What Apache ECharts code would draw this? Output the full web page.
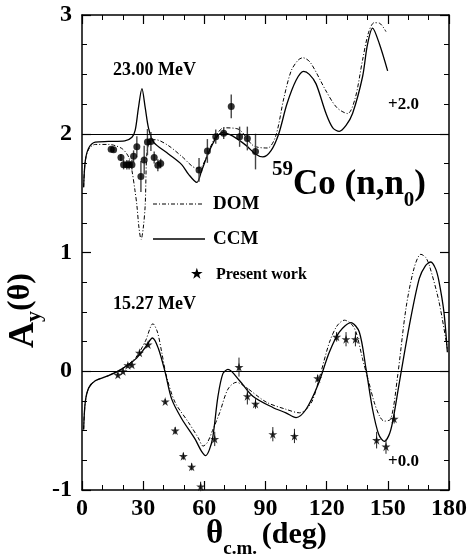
<!DOCTYPE html>
<html>
<head>
<meta charset="utf-8">
<script src="https://cdn.jsdelivr.net/npm/echarts@6/dist/echarts.min.js"></script>
<style>
html, body { margin: 0; padding: 0; background: #fff; }
#chart { width: 470px; height: 560px; }
</style>
</head>
<body>
<div id="chart"></div>
<script>
// 59Co(n,n0) analysing power, two energies; 23.00 MeV drawn shifted by +2.0
const FONT = '"Liberation Serif", "Times New Roman", serif';

// 23.00 MeV, values as plotted (+2.0)
const ccm23 = [[0.8,1.55],[1.6,1.77],[3.3,1.88],[6.5,1.93],[13,1.935],[21,1.94],[24.5,1.97],[26.1,2.03],[27.7,2.22],[29.4,2.38],[31.0,2.22],[32.6,2.05],[35.1,1.93],[42.4,1.83],[48.9,1.74],[52.2,1.66],[56.3,1.59],[58.7,1.69],[61.8,1.83],[65.9,1.97],[69.1,2.01],[74,1.98],[80.6,1.90],[85,1.83],[88.7,1.805],[92.8,1.86],[96.5,2.0],[100.5,2.25],[105,2.45],[108.7,2.525],[111.5,2.5],[114.8,2.42],[119.7,2.17],[123,2.05],[126.2,2.02],[129.5,2.07],[132.7,2.17],[137.6,2.48],[140,2.75],[142.5,2.89],[145.8,2.76],[149.9,2.53]];
const dom23 = [[0.8,1.55],[1.6,1.77],[3.3,1.87],[6.5,1.91],[13,1.91],[16.3,1.90],[20,1.87],[23,1.80],[24.5,1.69],[26,1.52],[26.9,1.40],[28,1.20],[29,1.11],[30,1.20],[31,1.40],[31.8,1.83],[33.3,1.94],[36,1.95],[42.4,1.90],[48.9,1.81],[56.3,1.71],[59,1.73],[62,1.85],[66,1.99],[69.5,2.05],[76.5,2.04],[84,1.90],[91,1.88],[95,1.98],[99,2.3],[102.6,2.53],[106,2.62],[108.3,2.64],[112,2.6],[119.7,2.36],[125,2.22],[130.3,2.17],[134,2.3],[137.6,2.62],[140.5,2.85],[143.3,2.935],[146,2.93],[149.1,2.86]];
// [angle, value, error]
const data23 = [[14.3,1.87,0.02],[15.5,1.865,0.02],[19.1,1.80,0.03],[20.4,1.74,0.04],[22.0,1.74,0.04],[23.1,1.74,0.04],[24.5,1.74,0.04],[25.3,1.81,0.05],[26.9,1.89,0.09],[28.9,1.64,0.13],[30.5,1.78,0.12],[32.1,1.93,0.11],[33.8,1.935,0.08],[35.4,1.80,0.05],[37.2,1.735,0.05],[38.6,1.75,0.04],[57.4,1.695,0.1],[61.5,1.855,0.1],[65.6,1.975,0.06],[69.5,2.005,0.05],[73.2,2.23,0.1],[77.3,1.975,0.085],[81.1,1.96,0.1],[85.1,1.85,0.15]];

// 15.27 MeV (+0.0)
const ccm15 = [[0.8,-0.49],[1.6,-0.26],[3.3,-0.14],[6.5,-0.08],[13,-0.037],[19.6,0.02],[26.1,0.10],[31,0.20],[34.6,0.28],[37.5,0.19],[40.8,-0.01],[44,-0.235],[48.9,-0.40],[55.4,-0.57],[58.5,-0.67],[60.6,-0.71],[62.5,-0.66],[64.2,-0.55],[66.7,-0.21],[69.1,-0.02],[71.6,0.015],[77.3,-0.08],[83.8,-0.21],[93.6,-0.305],[100,-0.35],[105,-0.39],[109.9,-0.32],[115.6,-0.12],[121.3,0.16],[126.2,0.33],[131.9,0.41],[136,0.33],[139.3,0.02],[142.5,-0.32],[145.5,-0.53],[148.2,-0.59],[150.5,-0.54],[152.3,-0.43],[155.6,-0.10],[160.5,0.38],[165.4,0.78],[168.5,0.89],[171.1,0.92],[173.5,0.86],[175.1,0.755],[177.5,0.5],[179.2,0.16]];
const dom15 = [[0.8,-0.49],[1.6,-0.26],[3.3,-0.14],[6.5,-0.08],[13,-0.037],[19.6,0.02],[26.1,0.11],[31,0.25],[34.8,0.40],[37,0.33],[39.1,0.16],[41.4,-0.04],[45.6,-0.26],[52.2,-0.43],[57,-0.56],[59.4,-0.63],[61.5,-0.60],[64,-0.50],[67.5,-0.35],[71.6,-0.15],[75.7,-0.093],[80,-0.13],[90.4,-0.26],[100,-0.32],[106.7,-0.35],[110,-0.32],[113.2,-0.24],[117,-0.02],[121.3,0.24],[125,0.38],[128.7,0.43],[132,0.40],[134.4,0.33],[137.6,0.105],[140.5,-0.08],[143.3,-0.26],[146,-0.38],[148.2,-0.42],[151.5,-0.40],[154.8,-0.04],[158.9,0.53],[162.9,0.87],[166.2,0.985],[168.5,0.96],[170.3,0.895],[175.1,0.585],[179.2,0.19]];
const data15 = [[17.6,-0.03,0.02],[20.1,0.0,0.02],[22.5,0.05,0.02],[24.5,0.055,0.02],[28.2,0.155,0.02],[32.4,0.225,0.02],[40.8,-0.255,0.02],[45.7,-0.50,0.03],[49.7,-0.715,0.03],[53.8,-0.805,0.03],[58.2,-0.97,0.04],[65.1,-0.57,0.06],[77.0,0.035,0.08],[81.1,-0.21,0.07],[85.1,-0.275,0.04],[93.6,-0.53,0.06],[104.2,-0.545,0.06],[115.6,-0.06,0.03],[124.9,0.29,0.04],[129.5,0.27,0.06],[134.1,0.27,0.06],[144.5,-0.58,0.07],[149.1,-0.635,0.06],[153.1,-0.40,0.04]];

const xTicks = [0, 30, 60, 90, 120, 150, 180];
const yTicks = [-1, 0, 1, 2, 3];

const STAR = 'path://M50,0 L61,35 L98,35 L68,57 L79,91 L50,70 L21,91 L32,57 L2,35 L39,35 Z';
const DASHDOT = [4, 2, 1, 2];

let measureCtx = document.createElement('canvas').getContext('2d');
function textWidth(text, size) {
    measureCtx.font = 'bold ' + size + 'px ' + FONT;
    return measureCtx.measureText(text).width;
}

function errBars(data) {
    return data.map(function (d) { return [d[0], d[1] - d[2], d[1] + d[2]]; });
}

function errSeries(data, color, width) {
    return {
        type: 'custom',
        silent: true,
        data: errBars(data),
        renderItem: function (params, api) {
            let lo = api.coord([api.value(0), api.value(1)]);
            let hi = api.coord([api.value(0), api.value(2)]);
            return {
                type: 'line',
                shape: { x1: lo[0], y1: lo[1], x2: hi[0], y2: hi[1] },
                style: { stroke: color, lineWidth: width }
            };
        },
        z: 3
    };
}

function curve(data, dashed) {
    return {
        type: 'line',
        data: data,
        showSymbol: false,
        smooth: 0.3,
        lineStyle: { color: '#000', width: dashed ? 1 : 1.3, type: dashed ? DASHDOT : 'solid' },
        z: 2
    };
}

let axisCommon = {
    type: 'value',
    splitLine: { show: false },
    axisLine: { show: true, onZero: false, lineStyle: { color: '#000', width: 1.5 } },
    axisTick: { show: true, inside: true, length: 9, lineStyle: { color: '#000', width: 1.2 } },
    minorTick: { show: true, length: 5, lineStyle: { color: '#000', width: 1 } },
    axisLabel: { color: '#000', fontFamily: FONT, fontWeight: 'bold', fontSize: 24 }
};

function xAx(pos, labels) {
    return Object.assign({}, axisCommon, {
        position: pos, min: xTicks[0], max: xTicks[xTicks.length - 1], interval: 30,
        minorTick: Object.assign({}, axisCommon.minorTick, { splitNumber: 3 }),
        axisLabel: Object.assign({}, axisCommon.axisLabel, { show: labels, margin: 7 })
    });
}
function yAx(pos, labels) {
    return Object.assign({}, axisCommon, {
        position: pos, min: yTicks[0], max: yTicks[yTicks.length - 1], interval: 1,
        minorTick: Object.assign({}, axisCommon.minorTick, { splitNumber: 4 }),
        axisLabel: Object.assign({}, axisCommon.axisLabel, { show: labels, margin: 10 })
    });
}

function txt(x, y, text, size, align) {
    return {
        type: 'text', x: x, y: y, silent: true,
        style: {
            text: text, fill: '#000', textAlign: align || 'left', textVerticalAlign: 'middle',
            font: 'bold ' + size + 'px ' + FONT
        }
    };
}

// pieces of text set one after another: [text, size, dy]
function seq(x, y, parts) {
    let out = [];
    parts.forEach(function (p) {
        out.push(txt(x, y + p[2], p[0], p[1]));
        x += textWidth(p[0], p[1]);
    });
    return out;
}

let graphics = [
    txt(113, 70, '23.00 MeV', 18),
    txt(113, 304, '15.27 MeV', 18),
    txt(388, 105, '+2.0', 17),
    txt(388, 462, '+0.0', 17),
    // legend
    { type: 'line', silent: true, shape: { x1: 153, y1: 204, x2: 204, y2: 204 },
      style: { stroke: '#000', lineWidth: 1, lineDash: DASHDOT } },
    txt(213, 204, 'DOM', 19),
    { type: 'line', silent: true, shape: { x1: 153, y1: 239, x2: 205, y2: 239 },
      style: { stroke: '#000', lineWidth: 1.3 } },
    txt(213, 239, 'CCM', 19),
    txt(197, 275, '\u2605', 13, 'center'),
    txt(216, 275, 'Present work', 16),
    // y axis title (rotated)
    {
        type: 'group', x: 24, y: 348, rotation: Math.PI / 2, silent: true,
        children: seq(0, 0, [['A', 36, 0], ['y', 22, 10], ['(\u03b8)', 32, -3]])
    }
];
// 59Co (n,n0)
graphics = graphics.concat(seq(272, 0, [['59', 21, 170], ['Co (n,n', 35, 185], ['0', 21, 201], [')', 35, 185]]));
// theta c.m. (deg)
graphics = graphics.concat(seq(206, 0, [['\u03b8', 33, 534], ['c.m.', 19, 549], [' ', 19, 549], ['(deg)', 30, 535]]));

let option = {
    animation: false,
    backgroundColor: '#fff',
    grid: { left: 82, right: 20, top: 15, bottom: 70 },
    xAxis: [xAx('bottom', true), xAx('top', false)],
    yAxis: [yAx('left', true), yAx('right', false)],
    series: [
        Object.assign(curve(ccm23, false), {
            markLine: {
                silent: true, symbol: 'none', label: { show: false },
                lineStyle: { color: '#000', width: 1, type: 'solid' },
                data: [{ yAxis: 2 }, { yAxis: 0 }]
            }
        }),
        curve(dom23, true),
        curve(ccm15, false),
        curve(dom15, true),
        errSeries(data23, '#444', 1.4),
        {
            type: 'scatter', data: data23.map(function (d) { return [d[0], d[1]]; }),
            symbol: 'circle', symbolSize: 7, itemStyle: { color: '#000' }, z: 4
        },
        errSeries(data15, '#222', 1),
        {
            type: 'scatter', data: data15.map(function (d) { return [d[0], d[1]]; }),
            symbol: STAR, symbolSize: 9, itemStyle: { color: '#000' }, z: 4
        }
    ],
    graphic: graphics
};

let myChart = echarts.init(document.getElementById('chart'));
myChart.setOption(option);
</script>
</body>
</html>
